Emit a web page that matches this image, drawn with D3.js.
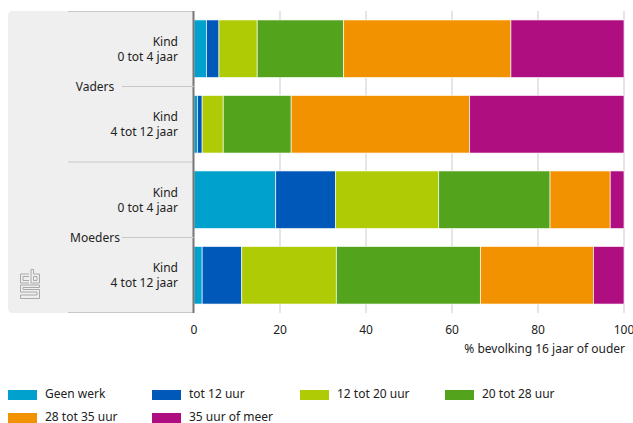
<!DOCTYPE html>
<meta charset="utf-8">
<script src="https://d3js.org/d3.v7.min.js"></script>
<style>
  body { margin: 0; background: #fff; }
  text { font-family: "Noto Sans", sans-serif; fill: #222; }
</style>
<div id="my_dataviz"></div>
<script>

// data
var groups = ["Vaders", "Moeders"];
var rowLabels = [["Kind", "0 tot 4 jaar"], ["Kind", "4 tot 12 jaar"], ["Kind", "0 tot 4 jaar"], ["Kind", "4 tot 12 jaar"]];
var rowGroup = ["Vaders", "Vaders", "Moeders", "Moeders"];
var seriesNames = ["Geen werk", "tot 12 uur", "12 tot 20 uur", "20 tot 28 uur", "28 tot 35 uur", "35 uur of meer"];
var seriesColors = ["#00a1cd", "#0058b8", "#afcb05", "#53a31d", "#f39200", "#af0e80"];
var geenWerk  = [2.9, 0.8, 19.0, 1.9];
var tot12     = [2.9, 1.1, 13.9, 9.2];
var van12tot20 = [8.9, 4.9, 24.0, 22.0];
var van20tot28 = [20.1, 15.8, 25.9, 33.5];
var van28tot35 = [38.9, 41.5, 14.0, 26.3];
var meer35    = [26.3, 35.9, 3.2, 7.1];
var xTicks = [0, 20, 40, 60, 80, 100];

var seriesValues = [geenWerk, tot12, van12tot20, van20tot28, van28tot35, meer35];
var rows = rowLabels.map(function (l, i) {
  var r = { id: i };
  seriesNames.forEach(function (s, j) { r[s] = seriesValues[j][i]; });
  return r;
});

var width = 633, height = 423;
var svg = d3.select("#my_dataviz").append("svg")
  .attr("width", width).attr("height", height);

var plotTop = 11, plotBottom = 313, plotLeft = 194, plotRight = 624;

var x = d3.scaleLinear().domain([0, 100]).range([plotLeft, plotRight]);
var y = d3.scaleBand().domain(rows.map(function (d) { return d.id; }))
  .range([plotTop, plotBottom]).paddingInner(0.237).paddingOuter(0.1185);

// grey label panel
svg.append("path")
  .attr("d", "M" + plotLeft + "," + plotTop + " H13 Q8," + plotTop + " 8," + (plotTop + 5) +
       " V" + (plotBottom - 5) + " Q8," + plotBottom + " 13," + plotBottom + " H" + plotLeft + " Z")
  .attr("fill", "#efefef");
[plotTop + 0.5, (plotTop + plotBottom) / 2, plotBottom - 0.5].forEach(function (yy) {
  svg.append("line").attr("x1", 68).attr("x2", plotLeft).attr("y1", yy).attr("y2", yy)
    .attr("stroke", "#c8c8c8").attr("stroke-width", 1);
});

// gridlines
svg.append("g").selectAll("line").data(xTicks.slice(1)).enter().append("line")
  .attr("x1", function (d) { return x(d); }).attr("x2", function (d) { return x(d); })
  .attr("y1", plotTop).attr("y2", plotBottom)
  .attr("stroke", "#dcdcdc").attr("stroke-width", 1.5);

// bars
var stack = d3.stack().keys(seriesNames)(rows);
svg.append("g").selectAll("g").data(stack).enter().append("g")
  .attr("fill", function (d, i) { return seriesColors[i]; })
  .selectAll("rect").data(function (d) { return d; }).enter().append("rect")
    .attr("x", function (d) { return x(d[0]); })
    .attr("width", function (d) { return x(d[1]) - x(d[0]); })
    .attr("y", function (d) { return y(d.data.id); })
    .attr("height", y.bandwidth())
    .attr("stroke", "#fff").attr("stroke-width", 0.8).attr("stroke-opacity", 0.8);

// axis line
svg.append("line").attr("x1", plotLeft - 0.5).attr("x2", plotLeft - 0.5)
  .attr("y1", plotTop).attr("y2", plotBottom)
  .attr("stroke", "#777").attr("stroke-width", 2);

// row labels
rows.forEach(function (d, i) {
  var cy = y(d.id) + y.bandwidth() / 2;
  var t = svg.append("text").attr("text-anchor", "end").attr("font-size", 12);
  t.append("tspan").attr("x", 178).attr("y", cy - 7).attr("dy", "0.35em").text(rowLabels[i][0]);
  t.append("tspan").attr("x", 178).attr("y", cy + 8).attr("dy", "0.35em").text(rowLabels[i][1]);
});

// group labels
groups.forEach(function (g) {
  var ids = rows.filter(function (d, i) { return rowGroup[i] === g; }).map(function (d) { return d.id; });
  var gy = (y(ids[0]) + y(ids[ids.length - 1]) + y.bandwidth()) / 2;
  svg.append("line").attr("x1", 122).attr("x2", plotLeft).attr("y1", gy).attr("y2", gy)
    .attr("stroke", "#c8c8c8").attr("stroke-width", 1);
  svg.append("text").attr("x", 95).attr("y", gy).attr("dy", "0.35em")
    .attr("text-anchor", "middle").attr("font-size", 12).text(g);
});

// cbs logo
var logo = svg.append("g").attr("transform", "translate(20,269)")
  .attr("fill", "none").attr("stroke", "#a8a8a8").attr("stroke-width", 1);
logo.append("path").attr("d", "M9,5 H0.5 V14 H9 M9,7.5 H3 V11.5 H9");
logo.append("path").attr("d", "M11,0.5 H13.5 V5 H19.5 V14 H11 Z M13.5,7.5 H17 V11.5 H13.5 Z");
logo.append("path").attr("d", "M19.5,16 H0.5 V23 H17 V26 H0.5 V29.5 H19.5 V20.5 H3 V18.5 H19.5 Z");

// x axis ticks
svg.append("g").selectAll("text").data(xTicks).enter().append("text")
  .attr("x", function (d) { return x(d); }).attr("y", 330).attr("dy", "0.35em")
  .attr("text-anchor", "middle").attr("font-size", 12)
  .text(function (d) { return d; });

svg.append("text").attr("x", plotRight + 1).attr("y", 349).attr("dy", "0.35em")
  .attr("text-anchor", "end").attr("font-size", 12)
  .text("% bevolking 16 jaar of ouder");

// legend
var legX = [8, 152, 300, 445];
var legend = svg.append("g").selectAll("g").data(seriesNames).enter().append("g")
  .attr("transform", function (d, i) {
    return "translate(" + legX[i % 4] + "," + (390 + Math.floor(i / 4) * 23) + ")";
  });
legend.append("rect").attr("width", 29).attr("height", 10)
  .attr("fill", function (d, i) { return seriesColors[i]; });
legend.append("text").attr("x", 37).attr("y", 4).attr("dy", "0.35em")
  .attr("font-size", 12).text(function (d) { return d; });

</script>
